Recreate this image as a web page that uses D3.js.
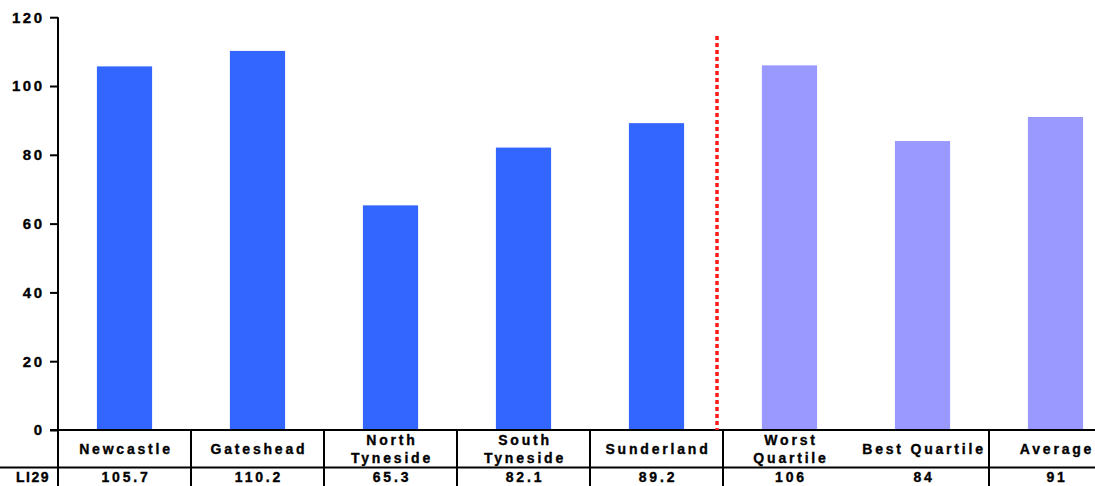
<!DOCTYPE html>
<html>
<head>
<meta charset="utf-8">
<script src="https://cdn.jsdelivr.net/npm/d3@7"></script>
<style>
  html, body { margin: 0; padding: 0; background: #fff; overflow: hidden; }
  svg { display: block; }
  text { font-family: "Liberation Sans", Arial, sans-serif; font-weight: bold; fill: #000; stroke: #000; stroke-width: 0.35px; }
</style>
</head>
<body>
<svg id="chart" width="1095" height="486"></svg>
<script>
// ---- data ----
const categories = ["Newcastle", "Gateshead", "North\nTyneside", "South\nTyneside", "Sunderland", "Worst\nQuartile", "Best Quartile", "Average"];
const values = [105.7, 110.2, 65.3, 82.1, 89.2, 106, 84, 91];
const valueLabels = ["105.7", "110.2", "65.3", "82.1", "89.2", "106", "84", "91"];
const groups = ["area", "area", "area", "area", "area", "bench", "bench", "bench"];
const yTicks = [0, 20, 40, 60, 80, 100, 120];
const rowLabel = "LI29";

// ---- layout ----
const svg = d3.select("#chart");
const x0 = 58, step = 133;
const x = d3.scaleBand()
  .domain(categories)
  .range([x0, x0 + step * categories.length])
  .paddingInner(0.585)
  .paddingOuter(0.2925);
const y = d3.scaleLinear().domain([0, 120]).range([430, 17.2]);
const color = d3.scaleOrdinal().domain(["area", "bench"]).range(["#3366ff", "#9999ff"]);

// bars
svg.append("g").selectAll("rect")
  .data(categories)
  .join("rect")
  .attr("x", d => x(d))
  .attr("width", x.bandwidth())
  .attr("y", (d, i) => y(values[i]))
  .attr("height", (d, i) => y(0) - y(values[i]))
  .attr("fill", (d, i) => color(groups[i]));

// y axis ticks
const yAxis = d3.axisLeft(y).tickValues(yTicks).tickSize(8).tickPadding(8).tickSizeOuter(0);
const gy = svg.append("g").attr("transform", `translate(${x0},0)`).call(yAxis);
gy.select(".domain").remove();
gy.selectAll(".tick line").attr("stroke", "#000").attr("stroke-width", 2);
gy.selectAll(".tick text")
  .attr("font-size", 15).attr("font-family", "Liberation Sans, Arial, sans-serif")
  .attr("font-weight", "bold").attr("fill", "#000").attr("letter-spacing", "2.5px")
  .attr("dx", "2.5px");

// axis line
svg.append("line").attr("x1", x0).attr("x2", x0).attr("y1", y(120)).attr("y2", 486)
  .attr("stroke", "#000").attr("stroke-width", 2);
// table horizontal lines
svg.append("line").attr("x1", x0 - 8).attr("x2", 1095).attr("y1", y(0)).attr("y2", y(0))
  .attr("stroke", "#000").attr("stroke-width", 2);
svg.append("line").attr("x1", 0).attr("x2", 1095).attr("y1", 467.5).attr("y2", 467.5)
  .attr("stroke", "#000").attr("stroke-width", 2);

// table vertical separators (none between Worst and Best Quartile)
const sepIdx = d3.range(1, categories.length).filter(i => i !== 6);
svg.append("g").selectAll("line")
  .data(sepIdx)
  .join("line")
  .attr("x1", i => x0 + x.step() * i).attr("x2", i => x0 + x.step() * i)
  .attr("y1", y(0)).attr("y2", 486)
  .attr("stroke", "#000").attr("stroke-width", 2);

// red dotted divider
const divX = x0 + x.step() * 5 - 6;
svg.append("line").attr("x1", divX).attr("x2", divX).attr("y1", y(114.5)).attr("y2", y(0))
  .attr("stroke", "#ff1a1a").attr("stroke-width", 3.5).attr("stroke-dasharray", "4,3");

// category labels
const catG = svg.append("g");
categories.forEach((c, i) => {
  const lines = c.split("\n");
  const cx = x(c) + x.bandwidth() / 2;
  const t = catG.append("text").attr("text-anchor", "middle").attr("font-size", 14)
    .attr("letter-spacing", "2.8px");
  if (lines.length === 1) {
    t.append("tspan").attr("x", cx + 1.5).attr("y", 454).text(lines[0]);
  } else {
    t.append("tspan").attr("x", cx + 1.5).attr("y", 445).text(lines[0]);
    t.append("tspan").attr("x", cx + 1.5).attr("y", 463).text(lines[1]);
  }
});

// value row
svg.append("g").selectAll("text")
  .data(valueLabels)
  .join("text")
  .attr("x", (d, i) => x(categories[i]) + x.bandwidth() / 2 + 1.5)
  .attr("y", 482)
  .attr("text-anchor", "middle")
  .attr("font-size", 14)
  .attr("letter-spacing", "2.8px")
  .text(d => d);

svg.append("text").attr("x", 50).attr("y", 482).attr("font-size", 14)
  .attr("text-anchor", "end")
  .attr("letter-spacing", "1.5px").text(rowLabel);
</script>
</body>
</html>
